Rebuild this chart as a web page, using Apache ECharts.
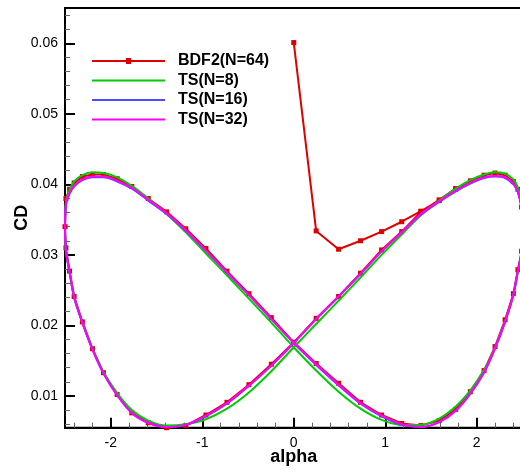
<!DOCTYPE html>
<html><head><meta charset="utf-8">
<script src="https://cdn.jsdelivr.net/npm/echarts@6/dist/echarts.min.js"></script>
<style>html,body{margin:0;padding:0;background:#fff}#c{width:520px;height:473px}</style>
</head><body><div id="c"></div>
<script>
// Tick labels
var xMajorTicks = [-2, -1, 0, 1, 2];
var xMinorTicks = [-2.4,-2.2,-1.8,-1.6,-1.4,-1.2,-0.8,-0.6,-0.4,-0.2,0.2,0.4,0.6,0.8,1.2,1.4,1.6,1.8,2.2,2.4];
var yMajorTicks = [0.01, 0.02, 0.03, 0.04, 0.05, 0.06];
var yMinorTicks = [0.006,0.008,0.012,0.014,0.016,0.018,0.022,0.024,0.026,0.028,0.032,0.034,0.036,0.038,0.042,0.044,0.046,0.048,0.052,0.054,0.056,0.058,0.062,0.064];

var seriesNames = ['BDF2(N=64)', 'TS(N=8)', 'TS(N=16)', 'TS(N=32)'];

// BDF2 (N=64) time history (alpha, CD)
var bdfAlpha = [0.00,0.245,0.49,0.73,0.96,1.18,1.39,1.59,1.77,1.93,2.08,2.20,2.31,2.40,2.45,2.49,2.50,2.49,2.45,2.40,2.31,2.20,2.08,1.93,1.77,1.59,1.39,1.18,0.96,0.73,0.49,0.245,
  0.00,-0.245,-0.49,-0.73,-0.96,-1.18,-1.39,-1.59,-1.77,-1.93,-2.08,-2.20,-2.31,-2.40,-2.45,-2.49,-2.50,-2.49,-2.45,-2.40,-2.31,-2.20,-2.08,-1.93,-1.77,-1.59,-1.39,-1.18,-0.96,-0.73,-0.49,-0.245,
  0.00,0.245,0.49,0.73,0.96,1.18,1.39,1.59,1.77];
var bdfCD = [0.0601,0.0334,0.0308,0.0320,0.0333,0.0347,0.0362,0.0377,0.0393,0.0405,0.0413,0.0416,0.0413,0.0404,0.0393,0.0368,0.0336,0.0305,0.0279,0.0245,0.0208,0.0170,0.0136,0.0106,0.0081,0.0065,0.0058,0.0061,0.0073,0.0091,0.0118,0.0146,
  0.0176,0.0211,0.0245,0.0277,0.0309,0.0337,0.0361,0.0380,0.0397,0.0408,0.0414,0.0414,0.0411,0.0402,0.0393,0.0380,0.0340,0.0310,0.0277,0.0241,0.0205,0.0167,0.0133,0.0102,0.0076,0.0062,0.0055,0.0058,0.0073,0.0091,0.0116,0.0145,
  0.0176,0.0210,0.0241,0.0274,0.0307,0.0333,0.0361,0.0378,0.0394];

// Periodic (time spectral) loops, one period
var tsAlpha = [0.00,0.245,0.49,0.73,0.96,1.18,1.39,1.59,1.77,1.93,2.08,2.20,2.31,2.40,2.45,2.49,2.50,2.49,2.45,2.40,2.31,2.20,2.08,1.93,1.77,1.59,1.39,1.18,0.96,0.73,0.49,0.245,
  0.00,-0.245,-0.49,-0.73,-0.96,-1.18,-1.39,-1.59,-1.77,-1.93,-2.08,-2.20,-2.31,-2.40,-2.45,-2.49,-2.50,-2.49,-2.45,-2.40,-2.31,-2.20,-2.08,-1.93,-1.77,-1.59,-1.39,-1.18,-0.96,-0.73,-0.49,-0.245,0.00];
var ts8CD = [0.0169,0.0202,0.0235,0.0268,0.0300,0.0329,0.0356,0.0377,0.0394,0.0406,0.0414,0.0417,0.0415,0.0407,0.0395,0.0372,0.0338,0.0304,0.0277,0.0243,0.0206,0.0169,0.0137,0.0108,0.0085,0.0068,0.0059,0.0059,0.0066,0.0082,0.0106,0.0136,
  0.0169,0.0204,0.0238,0.0271,0.0302,0.0332,0.0358,0.0380,0.0398,0.0410,0.0416,0.0417,0.0413,0.0404,0.0392,0.0375,0.0340,0.0305,0.0275,0.0240,0.0204,0.0167,0.0134,0.0104,0.0080,0.0065,0.0058,0.0060,0.0067,0.0082,0.0105,0.0135,0.0169];
var ts16CD = [0.0175,0.0209,0.0241,0.0273,0.0305,0.0332,0.0357,0.0375,0.0390,0.0401,0.0409,0.0411,0.0409,0.0400,0.0389,0.0366,0.0335,0.0303,0.0277,0.0243,0.0205,0.0167,0.0133,0.0103,0.0079,0.0063,0.0056,0.0059,0.0071,0.0089,0.0115,0.0144,
  0.0175,0.0209,0.0243,0.0275,0.0306,0.0334,0.0358,0.0377,0.0394,0.0404,0.0410,0.0410,0.0406,0.0397,0.0387,0.0371,0.0338,0.0306,0.0276,0.0240,0.0204,0.0166,0.0132,0.0101,0.0076,0.0062,0.0056,0.0059,0.0071,0.0089,0.0114,0.0143,0.0175];
var ts32CD = [0.0175,0.0209,0.0241,0.0273,0.0305,0.0332,0.0358,0.0376,0.0391,0.0402,0.0410,0.0412,0.0410,0.0401,0.0389,0.0366,0.0335,0.0303,0.0277,0.0244,0.0206,0.0168,0.0134,0.0104,0.0079,0.0063,0.0056,0.0060,0.0072,0.0090,0.0116,0.0145,
  0.0175,0.0209,0.0243,0.0275,0.0306,0.0335,0.0359,0.0378,0.0395,0.0405,0.0411,0.0411,0.0407,0.0398,0.0388,0.0372,0.0338,0.0306,0.0276,0.0240,0.0204,0.0166,0.0132,0.0101,0.0076,0.0062,0.0056,0.0059,0.0072,0.0090,0.0115,0.0143,0.0175];

function pairs(xs, ys) { return xs.map(function (x, i) { return [x, ys[i]]; }); }

var FONT = '"Liberation Sans", Arial, sans-serif';
var LINE_ICON = 'path://M0,0 L73,0 L73,2 L0,2 Z';
var MARK_ICON = 'path://M0,2 L34,2 L34,0 L39,0 L39,2 L73,2 L73,4 L39,4 L39,6 L34,6 L34,4 L0,4 Z';
var chart = echarts.init(document.getElementById('c'), null, {renderer: 'canvas'});
var tsLine = function (name, color, cd) {
  return { name: name, type: 'line', data: pairs(tsAlpha, cd), symbol: 'none', smooth: 0.3, clip: false,
    lineStyle: { color: color, width: 2 }, itemStyle: { color: color }, animation: false, z: 3 };
};
chart.setOption({
  animation: false,
  backgroundColor: '#fff',
  grid: { left: 65, top: 8, width: 457.5, height: 419.7, show: true, borderColor: '#000', borderWidth: 2,
    containLabel: false, outerBoundsMode: 'none' },
  legend: {
    left: 87, top: 48, orient: 'vertical', itemWidth: 73, itemHeight: 14, itemGap: 3.5, selectedMode: false,
    data: [
      { name: seriesNames[0], icon: MARK_ICON },
      { name: seriesNames[1], icon: LINE_ICON },
      { name: seriesNames[2], icon: LINE_ICON },
      { name: seriesNames[3], icon: LINE_ICON }
    ],
    textStyle: { fontFamily: FONT, fontWeight: 'bold', fontSize: 16, color: '#000', padding: [0, 0, 0, 8] }
  },
  xAxis: [{
    type: 'value', min: -2.5, max: 2.5, position: 'bottom',
    name: 'alpha', nameLocation: 'middle', nameGap: 20, nameMoveOverlap: false,
    nameTextStyle: { fontFamily: FONT, fontWeight: 'bold', fontSize: 18, color: '#000' },
    axisLine: { show: true, onZero: false, lineStyle: { color: '#000', width: 2 } },
    axisTick: { show: true, inside: true, length: 10, customValues: xMajorTicks, lineStyle: { color: '#000', width: 2 } },
    axisLabel: { show: true, customValues: xMajorTicks, margin: 8, fontFamily: FONT, fontSize: 14, color: '#000' },
    splitLine: { show: false }
  }, {
    type: 'value', min: -2.5, max: 2.5, position: 'bottom', offset: 0,
    axisLine: { show: false, onZero: false },
    axisTick: { show: true, inside: true, length: 5, customValues: xMinorTicks, lineStyle: { color: '#666', width: 1 } },
    axisLabel: { show: false }, splitLine: { show: false }
  }],
  yAxis: [{
    type: 'value', min: 0.0055, max: 0.065, position: 'left',
    name: 'CD', nameLocation: 'middle', nameGap: 34, nameRotate: 90, nameMoveOverlap: false,
    nameTextStyle: { fontFamily: FONT, fontWeight: 'bold', fontSize: 18, color: '#000' },
    axisLine: { show: true, onZero: false, lineStyle: { color: '#000', width: 2 } },
    axisTick: { show: true, inside: true, length: 10, customValues: yMajorTicks, lineStyle: { color: '#000', width: 2 } },
    axisLabel: { show: true, customValues: yMajorTicks, margin: 7, fontFamily: FONT, fontSize: 14, color: '#000',
      formatter: function (v) { return v.toFixed(2); } },
    splitLine: { show: false }
  }, {
    type: 'value', min: 0.0055, max: 0.065, position: 'left', offset: 0,
    axisLine: { show: false, onZero: false },
    axisTick: { show: true, inside: true, length: 5, customValues: yMinorTicks, lineStyle: { color: '#666', width: 1 } },
    axisLabel: { show: false }, splitLine: { show: false }
  }],
  series: [
    { name: seriesNames[0], type: 'line', data: pairs(bdfAlpha, bdfCD), symbol: 'rect', symbolSize: 5, showSymbol: true, clip: false,
      lineStyle: { color: '#dd0000', width: 2 }, itemStyle: { color: '#dd0000' }, z: 2 },
    tsLine(seriesNames[1], '#00cc00', ts8CD),
    tsLine(seriesNames[2], '#4d4dff', ts16CD),
    tsLine(seriesNames[3], '#ff00ff', ts32CD)
  ]
});
</script></body></html>
